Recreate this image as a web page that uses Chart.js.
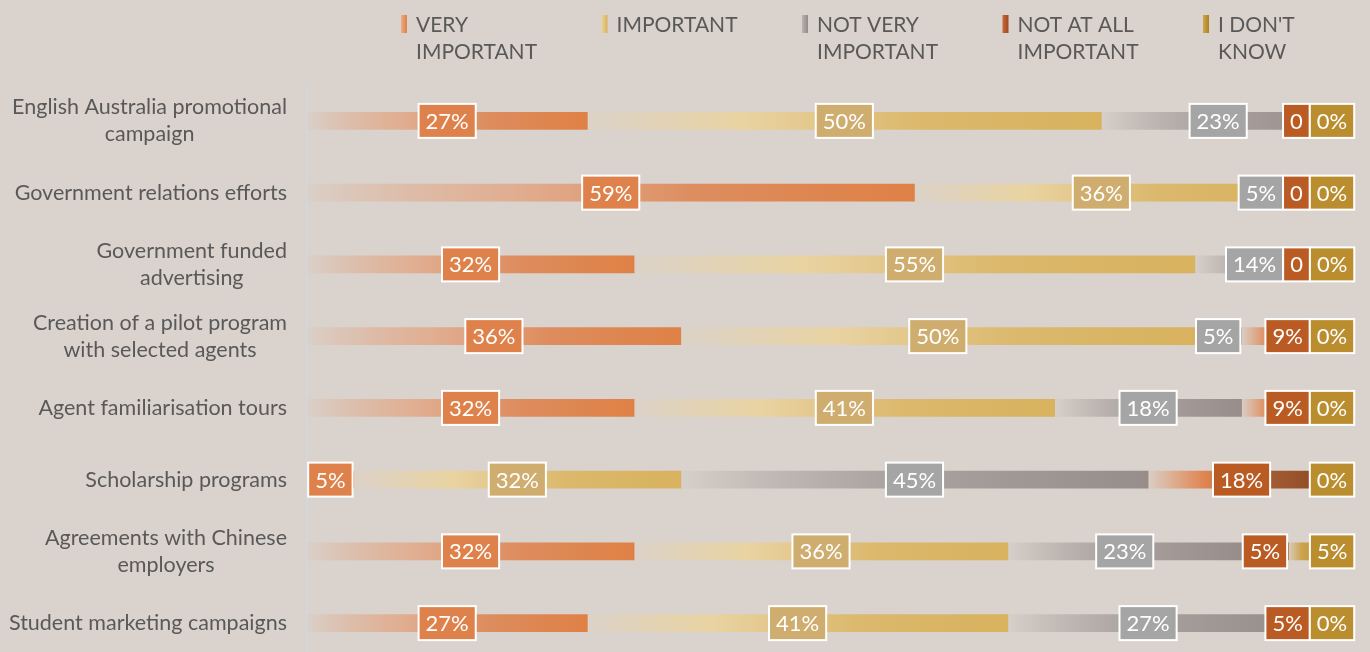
<!DOCTYPE html>
<html>
<head>
<meta charset="utf-8">
<script src="https://cdn.jsdelivr.net/npm/chart.js@4.4.1/dist/chart.umd.min.js"></script>
<style>
    html, body { margin: 0; padding: 0; background: #dad2cc; overflow: hidden; }
    #chart { display: block; }
</style>
</head>
<body>
<canvas id="chart" width="1370" height="660"></canvas>
<script>
const categories = [
    ['English Australia promotional', 'campaign'],
    ['Government relations efforts'],
    ['Government funded', 'advertising'],
    ['Creation of a pilot program', 'with selected agents'],
    ['Agent familiarisation tours'],
    ['Scholarship programs'],
    ['Agreements with Chinese', 'employers'],
    ['Student marketing campaigns']
];
const seriesNames = [
    ['VERY', 'IMPORTANT'],
    ['IMPORTANT'],
    ['NOT VERY', 'IMPORTANT'],
    ['NOT AT ALL', 'IMPORTANT'],
    ["I DON'T", 'KNOW']
];
const veryImportant    = [27.27, 59.09, 31.82, 36.36, 31.82, 4.55, 31.82, 27.27];
const important        = [50.00, 36.36, 54.55, 50.00, 40.91, 31.82, 36.36, 40.91];
const notVeryImportant = [22.73, 4.55, 13.64, 4.55, 18.18, 45.45, 22.73, 27.27];
const notAtAll         = [0, 0, 0, 9.09, 9.09, 18.18, 4.55, 4.55];
const dontKnow         = [0, 0, 0, 0, 0, 0, 4.55, 0];
const seriesData = [veryImportant, important, notVeryImportant, notAtAll, dontKnow];

// gradient stops for each series (fade in from the background)
const barStops = [
    [[0, 'rgba(225,134,78,0.03)'], [0.3, 'rgba(229,150,106,0.55)'], [0.65, '#dd8c5d'], [1, '#df8146']],
    [[0, 'rgba(233,212,163,0.1)'], [0.3, '#e9d3a2'], [0.65, '#dbb86c'], [1, '#d8b25e']],
    [[0, 'rgba(160,150,148,0.05)'], [0.45, '#aba3a1'], [1, '#978d8b']],
    [[0, 'rgba(224,133,80,0.05)'], [0.3, '#df8550'], [0.6, '#a65e36'], [1, '#8b4720']],
    [[0, 'rgba(203,162,74,0.1)'], [0.3, '#cba24a'], [1, '#b88c2a']]
];
const boxColors = ['#df814a', '#cfad6f', '#a6a5a5', '#ba5b23', '#ba8e2f'];
const swatchColors = [
    ['#eaae8a', '#de7f46'],
    ['#ecd39b', '#d8b25e'],
    ['#bdb5b3', '#938987'],
    ['#c8683a', '#9e4a1e'],
    ['#cfa64a', '#a98322']
];

function barGradient(context) {
    const chart = context.chart;
    const ds = context.datasetIndex;
    const stops = barStops[ds];
    const solid = stops[stops.length - 1][1];
    if (!chart.chartArea || context.type !== 'data') return solid;
    const i = context.dataIndex;
    let start = 0;
    for (let k = 0; k < ds; k++) start += seriesData[k][i];
    const end = start + seriesData[ds][i];
    const x0 = chart.scales.x.getPixelForValue(start);
    const x1 = chart.scales.x.getPixelForValue(end);
    if (x1 - x0 < 1) return solid;
    const g = chart.ctx.createLinearGradient(x0, 0, x1, 0);
    stops.forEach(s => g.addColorStop(s[0], s[1]));
    return g;
}

function labelText(ds, value) {
    if (ds === 3 && value === 0) return '0';
    return Math.round(value) + '%';
}

const background = {
    id: 'background',
    beforeDraw(chart) {
        const ctx = chart.ctx;
        ctx.save();
        ctx.fillStyle = '#dad2cc';
        ctx.fillRect(0, 0, chart.width, chart.height);
        ctx.restore();
    }
};

const boxLabels = {
    id: 'boxLabels',
    afterDatasetsDraw(chart) {
        const ctx = chart.ctx;
        const n = chart.data.datasets.length;
        ctx.save();
        ctx.font = '22px Lato';
        ctx.textAlign = 'center';
        ctx.textBaseline = 'middle';
        categories.forEach((c, i) => {
            const boxes = [];
            for (let d = 0; d < n; d++) {
                const bar = chart.getDatasetMeta(d).data[i];
                const left = Math.min(bar.base, bar.x);
                const right = Math.max(bar.base, bar.x);
                const text = labelText(d, seriesData[d][i]);
                const w = ctx.measureText(text).width + 14;
                const cx = d === n - 1 ? right - 3 : (left + right) / 2;
                boxes.push({ text, w, l: cx - w / 2, y: bar.y, color: boxColors[d] });
            }
            const last = boxes[n - 1];
            if (last.l + last.w > chart.width - 12) last.l = chart.width - 12 - last.w;
            for (let d = n - 2; d >= 0; d--) {
                if (boxes[d].l + boxes[d].w > boxes[d + 1].l) boxes[d].l = boxes[d + 1].l - boxes[d].w;
            }
            boxes.forEach(b => {
                ctx.fillStyle = b.color;
                ctx.fillRect(b.l, b.y - 17, b.w, 34);
                ctx.strokeStyle = '#ffffff';
                ctx.lineWidth = 2;
                ctx.strokeRect(b.l, b.y - 17, b.w, 34);
                ctx.fillStyle = '#ffffff';
                ctx.fillText(b.text, b.l + b.w / 2, b.y + 1);
            });
        });
        ctx.restore();
    }
};

const categoryLabels = {
    id: 'categoryLabels',
    afterDraw(chart) {
        const ctx = chart.ctx;
        const yScale = chart.scales.y;
        ctx.save();
        ctx.font = '21.5px Lato';
        ctx.fillStyle = '#595959';
        ctx.textAlign = 'center';
        ctx.textBaseline = 'middle';
        categories.forEach((lines, i) => {
            const y = yScale.getPixelForTick(i);
            const w = Math.max(...lines.map(l => ctx.measureText(l).width));
            const cx = 287 - w / 2;
            lines.forEach((line, k) => {
                ctx.fillText(line, cx, y + (k - (lines.length - 1) / 2) * 27);
            });
        });
        ctx.restore();
    }
};

const topLegend = {
    id: 'topLegend',
    afterDraw(chart) {
        const ctx = chart.ctx;
        ctx.save();
        ctx.font = '21px Lato';
        ctx.textAlign = 'left';
        ctx.textBaseline = 'middle';
        seriesNames.forEach((lines, d) => {
            const x = 401 + d * 200.5;
            const g = ctx.createLinearGradient(x, 0, x + 6, 0);
            g.addColorStop(0, swatchColors[d][0]);
            g.addColorStop(1, swatchColors[d][1]);
            ctx.fillStyle = g;
            ctx.fillRect(x, 15, 6, 18);
            ctx.fillStyle = '#595959';
            lines.forEach((line, k) => {
                ctx.fillText(line, x + 15, 25 + k * 27);
            });
        });
        ctx.restore();
    }
};

const datasets = seriesData.map((values, d) => ({
    label: seriesNames[d].join(' '),
    data: values,
    backgroundColor: barGradient,
    borderWidth: 0,
    barThickness: 17
}));

new Chart(document.getElementById('chart'), {
    type: 'bar',
    data: {
        labels: categories.map(c => c.join(' ')),
        datasets: datasets
    },
    options: {
        indexAxis: 'y',
        responsive: false,
        animation: false,
        layout: {
            padding: { top: 85, right: 35, bottom: 1, left: 0 }
        },
        plugins: {
            legend: { display: false },
            tooltip: { enabled: false }
        },
        scales: {
            x: {
                stacked: true,
                min: 0,
                max: 100,
                display: false
            },
            y: {
                stacked: true,
                ticks: { display: false },
                grid: { display: false },
                border: { display: true, color: '#d3d6da', width: 2 },
                afterFit(scale) { scale.width = 307; }
            }
        }
    },
    plugins: [background, boxLabels, categoryLabels, topLegend]
});
</script>
</body>
</html>
